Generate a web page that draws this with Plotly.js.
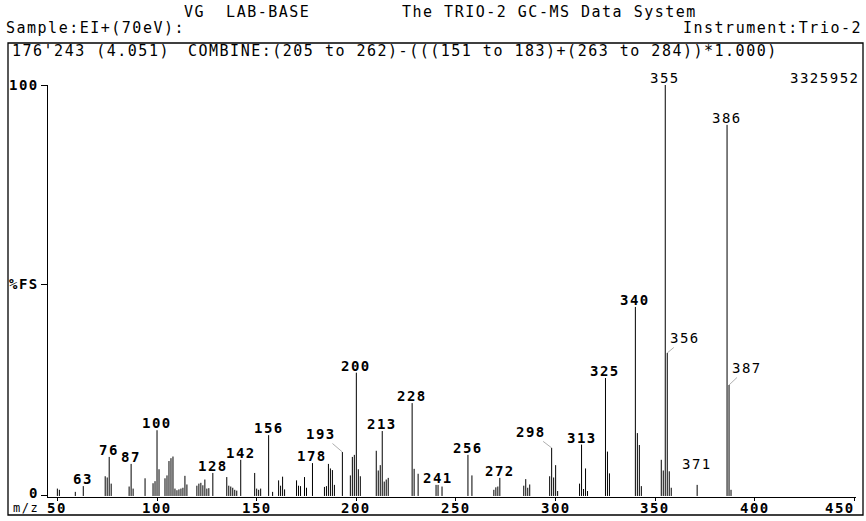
<!DOCTYPE html>
<html><head><meta charset="utf-8">
<script src="https://cdn.plot.ly/plotly-3.0.1.min.js"></script>
<style>
html,body{margin:0;padding:0;background:#fff;}
#chart{width:866px;height:521px;}
svg text{letter-spacing:1.5px;}
</style></head><body><div id="chart"></div>
<script>
// m/z values of the spectrum lines
const mz = [50,51,59,63,74,75,76,77,86,87,88,94,98,99,100,101,104,105,106,107,108,109,110,111,112,113,114,115,
  120,121,122,123,124,125,126,128,135,136,137,138,139,140,142,149,150,151,152,156,158,161,162,163,164,
  170,171,172,174,175,178,184,185,186,187,188,189,193,197,198,199,200,201,202,210,211,212,213,214,215,216,
  228,229,231,240,241,243,256,258,269,270,271,272,284,285,286,287,297,298,299,300,301,312,313,314,315,316,
  325,326,327,340,341,342,343,353,354,355,356,357,358,371,386,387,388];
// relative intensity, %FS
const intensity = [1.8,1.5,1.0,2.4,4.8,4.5,9.5,3.0,2.3,7.8,1.8,4.3,3.1,3.6,16.0,6.5,4.3,5.0,8.5,9.2,9.6,1.8,1.4,1.6,1.8,2.0,4.9,2.8,
  2.5,3.0,3.2,2.6,4.0,1.8,1.9,5.6,4.6,2.5,2.3,2.0,1.5,1.3,8.8,5.6,1.8,1.5,1.8,14.8,1.0,3.8,2.5,4.7,1.6,
  3.8,2.5,2.4,4.6,2.0,8.0,2.2,2.4,7.8,6.7,6.3,2.7,10.7,5.0,9.5,10.0,30.0,6.5,4.8,11.0,6.2,7.5,15.8,3.5,4.0,4.4,
  22.6,6.6,5.4,2.7,2.7,2.3,10.0,5.0,1.5,2.1,2.3,4.4,2.5,4.1,2.0,2.8,4.8,11.7,4.5,7.5,1.2,3.0,12.5,1.7,6.7,1.2,
  28.7,10.8,5.5,46.0,15.3,12.4,2.4,8.8,6.2,100.0,34.8,6.0,2.0,2.7,90.3,27.0,1.5];
// peaks carrying an m/z label
const labelledMz = [63,76,87,100,128,142,156,178,193,200,213,228,241,256,272,298,313,325,340,355,356,371,386,387];

const xTickVals = [50,100,150,200,250,300,350,400,450];
const xTickText = ["50","100","150","200","250","300","350","400","450"];
const yTickVals = [0,51.5,100];
const yTickText = ["0","%FS","100"];

const headerTitle1 = "VG\u00a0\u00a0LAB-BASE";
const headerTitle2 = "The TRIO-2 GC-MS Data System";
const sampleText = "Sample:EI+(70eV):";
const instrumentText = "Instrument:Trio-2";
const scanText = "176'243 (4.051)";
const combineText = "COMBINE:(205 to 262)-(((151 to 183)+(263 to 284))*1.000)";
const fullScaleText = "3325952";
const xLabelText = "m/z";

const FONT = "DejaVu Sans Mono";
const W = 866, H = 521;
const M = {l:48, r:10, t:85, b:24};
const PX = px => (px - M.l) / (W - M.l - M.r);
const PY = py => (H - M.b - py) / (H - M.t - M.b);

// stick spectrum
const xs = [], ys = [];
for (let i = 0; i < mz.length; i++) { xs.push(mz[i], mz[i], null); ys.push(0, intensity[i], null); }

const leader = { // label offsets (px) for labels drawn with a leader line
  193: {ax:-21, ay:-18}, 298: {ax:-21, ay:-16}, 356: {ax:18, ay:-15}, 387: {ax:18, ay:-17}
};
const extraShift = {371: 14};
const lightLabels = [355, 356, 371, 386, 387];

const annotations = [];
labelledMz.forEach(m => {
  const h = intensity[mz.indexOf(m)];
  const base = {x:m, y:h, xref:'x', yref:'y', text:String(m),
    font:{family:FONT, size:14, color:'#000', weight: lightLabels.includes(m) ? 'normal' : 'bold'}};
  if (leader[m]) {
    annotations.push(Object.assign(base, {showarrow:true, arrowhead:0, arrowwidth:0.6,
      arrowcolor:'#777', ax:leader[m].ax, ay:leader[m].ay, standoff:0, startstandoff:0}));
  } else {
    annotations.push(Object.assign(base, {showarrow:false, xanchor:'center', yanchor:'bottom',
      yshift:-3 + (extraShift[m] || 0)}));
  }
});

const tickFont = {family:FONT, size:14, color:'#000', weight:'bold'};
// x tick labels (last one kept inside the frame, as on the printout)
xTickVals.forEach((v, i) => {
  const last = i === xTickVals.length - 1;
  annotations.push({x:v, y:0, xref:'x', yref:'paper', text:xTickText[i], showarrow:false,
    xanchor: last ? 'right' : 'center', xshift: last ? 2 : 0, yanchor:'middle', yshift:-11,
    font:tickFont});
});
// y tick labels
yTickVals.forEach((v, i) => {
  annotations.push({x:0, y:v, xref:'paper', yref:'y', text:yTickText[i], showarrow:false,
    xanchor:'right', xshift:-7, yanchor:'middle', yshift: v === 0 ? 3 : 0, font:tickFont});
});

function paperText(text, px, py, anchor, size) {
  return {text:text, xref:'paper', yref:'paper', x:PX(px), y:PY(py), xanchor:anchor, yanchor:'middle',
    showarrow:false, font:{family:FONT, size:size || 15, color:'#000'}};
}
annotations.push(paperText(headerTitle1, 182, 12, 'left'));
annotations.push(paperText(headerTitle2, 400, 12, 'left'));
annotations.push(paperText(sampleText, 4, 28, 'left'));
annotations.push(paperText(instrumentText, 864, 28, 'right'));
annotations.push(paperText(scanText, 10, 51, 'left'));
annotations.push(paperText(combineText, 186, 51, 'left'));
annotations.push(paperText(fullScaleText, 862, 78, 'right', 14));
annotations.push(paperText(xLabelText, 11, 508, 'left', 12));

const layout = {
  width:W, height:H, margin:{l:M.l, r:M.r, t:M.t, b:M.b, pad:0},
  paper_bgcolor:'#fff', plot_bgcolor:'#fff', showlegend:false,
  xaxis:{range:[45.3,450.7], showline:true, linecolor:'#000', linewidth:1, ticks:'outside', ticklen:3,
    tickcolor:'#000', tickvals:xTickVals, showticklabels:false, showgrid:false, zeroline:false,
    fixedrange:true},
  yaxis:{range:[-0.25,100], showline:true, linecolor:'#000', linewidth:1, ticks:'outside', ticklen:6,
    tickcolor:'#000', tickvals:yTickVals, showticklabels:false, showgrid:false, zeroline:false,
    fixedrange:true},
  annotations:annotations,
  shapes:[{type:'rect', xref:'paper', yref:'paper', x0:PX(8), x1:PX(863), y0:PY(515), y1:PY(43),
    line:{color:'#000', width:1.3}}]
};

Plotly.newPlot('chart', [{type:'scatter', mode:'lines', x:xs, y:ys, connectgaps:false,
  line:{color:'#000', width:1}, hoverinfo:'skip'}], layout, {staticPlot:true, displayModeBar:false});
</script></body></html>
